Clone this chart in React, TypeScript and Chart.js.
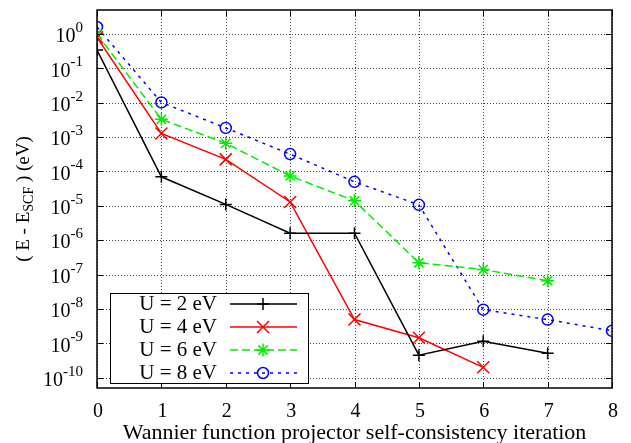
import React, { useEffect, useRef } from 'react';
import { Chart, registerables } from 'chart.js';

Chart.register(...registerables);

// ---- data ----
const iterations = [0, 1, 2, 3, 4, 5, 6, 7, 8];
const seriesLabels = ['U = 2 eV', 'U = 4 eV', 'U = 6 eV', 'U = 8 eV'];
const u2Values = [0.34, 7.0e-5, 1.1e-5, 1.6e-6, 1.6e-6, 4.5e-10, 1.15e-9, 5.1e-10];
const u4Values = [0.8, 1.28e-3, 2.25e-4, 1.3e-5, 4.9e-9, 1.45e-9, 2.0e-10];
const u6Values = [1.0, 3.3e-3, 6.6e-4, 7.4e-5, 1.4e-5, 2.2e-7, 1.4e-7, 6.6e-8];
const u8Values = [1.6, 1.02e-2, 1.85e-3, 3.2e-4, 5.0e-5, 1.07e-5, 9.5e-9, 4.9e-9, 2.3e-9];
const xTickValues = [0, 1, 2, 3, 4, 5, 6, 7, 8];
const yTickExponents = [0, -1, -2, -3, -4, -5, -6, -7, -8, -9, -10];
const xTitle = 'Wannier function projector self-consistency iteration';

const FONT = '"Liberation Serif", "Times New Roman", serif';

type SeriesStyle = {
  color: string;
  dash: number[];
  pointStyle: string;
  radius: number;
};

const styles: SeriesStyle[] = [
  { color: '#000000', dash: [], pointStyle: 'cross', radius: 6 },
  { color: '#ff0000', dash: [], pointStyle: 'crossRot', radius: 8.5 },
  { color: '#00ee00', dash: [8, 4], pointStyle: 'star', radius: 6.5 },
  { color: '#0000ff', dash: [3, 5], pointStyle: 'circle', radius: 5.5 },
];

const allValues = [u2Values, u4Values, u6Values, u8Values];

function drawMarker(ctx: CanvasRenderingContext2D, kind: string, x: number, y: number, r: number) {
  ctx.beginPath();
  if (kind === 'cross' || kind === 'star') {
    ctx.moveTo(x - r, y);
    ctx.lineTo(x + r, y);
    ctx.moveTo(x, y - r);
    ctx.lineTo(x, y + r);
  }
  if (kind === 'crossRot' || kind === 'star') {
    const d = r * Math.SQRT1_2;
    ctx.moveTo(x - d, y - d);
    ctx.lineTo(x + d, y + d);
    ctx.moveTo(x - d, y + d);
    ctx.lineTo(x + d, y - d);
  }
  if (kind === 'circle') {
    ctx.arc(x, y, r, 0, Math.PI * 2);
  }
  ctx.stroke();
}

const gridPlugin = {
  id: 'dottedGrid',
  beforeDatasetsDraw(chart: any) {
    const ctx: CanvasRenderingContext2D = chart.ctx;
    const { left, right, top, bottom } = chart.chartArea;
    const xs = chart.scales.x;
    const ys = chart.scales.y;
    ctx.save();
    ctx.strokeStyle = '#444';
    ctx.lineWidth = 1;
    ctx.setLineDash([1, 2]);
    ctx.beginPath();
    xTickValues.forEach((v) => {
      const px = Math.round(xs.getPixelForValue(v)) + 0.5;
      ctx.moveTo(px, top);
      ctx.lineTo(px, bottom);
    });
    yTickExponents.forEach((e) => {
      const py = Math.round(ys.getPixelForValue(Math.pow(10, e))) + 0.5;
      ctx.moveTo(left, py);
      ctx.lineTo(right, py);
    });
    ctx.stroke();
    ctx.restore();
  },
};

const decorPlugin = {
  id: 'gnuplotDecor',
  afterDraw(chart: any) {
    const ctx: CanvasRenderingContext2D = chart.ctx;
    const { left, right, top, bottom } = chart.chartArea;
    const xs = chart.scales.x;
    const ys = chart.scales.y;
    ctx.save();

    // frame
    ctx.strokeStyle = '#000';
    ctx.lineWidth = 1.5;
    ctx.setLineDash([]);
    ctx.strokeRect(left, top, right - left, bottom - top);

    // inward ticks
    ctx.lineWidth = 1;
    ctx.beginPath();
    xTickValues.forEach((v) => {
      const px = Math.round(xs.getPixelForValue(v)) + 0.5;
      ctx.moveTo(px, bottom);
      ctx.lineTo(px, bottom - 6);
      ctx.moveTo(px, top);
      ctx.lineTo(px, top + 6);
    });
    yTickExponents.forEach((e) => {
      const py = Math.round(ys.getPixelForValue(Math.pow(10, e))) + 0.5;
      ctx.moveTo(left, py);
      ctx.lineTo(left + 6, py);
      ctx.moveTo(right, py);
      ctx.lineTo(right - 6, py);
    });
    ctx.stroke();

    ctx.fillStyle = '#000';
    // x tick labels
    ctx.font = `20px ${FONT}`;
    ctx.textAlign = 'center';
    ctx.textBaseline = 'middle';
    xTickValues.forEach((v) => {
      ctx.fillText(String(v), xs.getPixelForValue(v) + 1, 412);
    });
    // x title
    ctx.font = `22px ${FONT}`;
    ctx.fillText(xTitle, (left + right) / 2, 433);

    // y tick labels: 10^e
    const labelRight = 83;
    yTickExponents.forEach((e) => {
      const py = ys.getPixelForValue(Math.pow(10, e));
      ctx.font = `15px ${FONT}`;
      const expText = String(e);
      const wExp = ctx.measureText(expText).width;
      ctx.font = `20px ${FONT}`;
      const wBase = ctx.measureText('10').width;
      const x0 = labelRight - wExp - wBase;
      ctx.textAlign = 'left';
      ctx.fillText('10', x0, py + 3);
      ctx.font = `15px ${FONT}`;
      ctx.fillText(expText, x0 + wBase, py - 6);
    });

    // y title (rotated)
    ctx.save();
    ctx.translate(24, (top + bottom) / 2);
    ctx.rotate(-Math.PI / 2);
    const parts: [string, number, number][] = [
      ['( E - E', 19, 0],
      ['SCF', 14, 5],
      [' ) (eV)', 19, 0],
    ];
    let total = 0;
    parts.forEach(([t, s]) => {
      ctx.font = `${s}px ${FONT}`;
      total += ctx.measureText(t).width;
    });
    let cx = -total / 2;
    ctx.textAlign = 'left';
    ctx.textBaseline = 'middle';
    parts.forEach(([t, s, dy]) => {
      ctx.font = `${s}px ${FONT}`;
      ctx.fillText(t, cx, dy);
      cx += ctx.measureText(t).width;
    });
    ctx.restore();

    // legend
    const bx = 110, by = 293, bw = 198, bh = 90;
    ctx.fillStyle = '#fff';
    ctx.fillRect(bx, by, bw, bh);
    ctx.strokeStyle = '#000';
    ctx.lineWidth = 1;
    ctx.strokeRect(bx + 0.5, by + 0.5, bw, bh);
    const rows = [304, 327, 350, 373];
    seriesLabels.forEach((lab, i) => {
      const st = styles[i];
      const ry = rows[i];
      ctx.fillStyle = '#000';
      ctx.font = `21px ${FONT}`;
      ctx.textAlign = 'right';
      ctx.textBaseline = 'middle';
      ctx.fillText(lab, 217, ry);
      ctx.strokeStyle = st.color;
      ctx.lineWidth = 1.5;
      ctx.setLineDash(st.dash);
      ctx.beginPath();
      ctx.moveTo(230, ry);
      ctx.lineTo(297, ry);
      ctx.stroke();
      ctx.setLineDash([]);
      drawMarker(ctx, st.pointStyle, 263, ry, st.radius);
    });

    ctx.restore();
  },
};

export default function App() {
  const canvasRef = useRef<HTMLCanvasElement | null>(null);

  useEffect(() => {
    const canvas = canvasRef.current;
    if (!canvas) return;

    const datasets = allValues.map((vals, i) => {
      const st = styles[i];
      return {
        label: seriesLabels[i],
        data: vals.map((v, k) => ({ x: iterations[k], y: v })),
        borderColor: st.color,
        backgroundColor: 'transparent',
        borderWidth: 1.5,
        borderDash: st.dash,
        pointStyle: st.pointStyle as any,
        pointRadius: st.radius,
        pointBorderColor: st.color,
        pointBackgroundColor: 'transparent',
        pointBorderWidth: 1.5,
        tension: 0,
        fill: false,
        showLine: true,
      };
    });

    const chart = new Chart(canvas, {
      type: 'scatter',
      data: { datasets },
      options: {
        animation: false,
        responsive: false,
        devicePixelRatio: 1,
        layout: { padding: { top: 10, right: 19, left: 0, bottom: 0 } },
        plugins: {
          legend: { display: false },
          tooltip: { enabled: false },
        },
        scales: {
          x: {
            type: 'linear',
            min: 0,
            max: 8,
            ticks: { display: false, stepSize: 1 },
            grid: { display: false },
            border: { display: false },
            afterFit: (scale: any) => {
              scale.height = 55;
            },
          },
          y: {
            type: 'logarithmic',
            min: 5e-11,
            max: 5,
            ticks: { display: false },
            grid: { display: false },
            border: { display: false },
            afterBuildTicks: (scale: any) => {
              scale.ticks = yTickExponents.map((e) => ({ value: Math.pow(10, e) }));
            },
            afterFit: (scale: any) => {
              scale.width = 97;
            },
          },
        },
      },
      plugins: [gridPlugin, decorPlugin],
    });

    return () => {
      chart.destroy();
    };
  }, []);

  return (
    <div style={{ position: 'absolute', left: 0, top: 0, width: 631, height: 443, background: '#fff' }}>
      <canvas ref={canvasRef} width={631} height={443} style={{ display: 'block' }} />
    </div>
  );
}
